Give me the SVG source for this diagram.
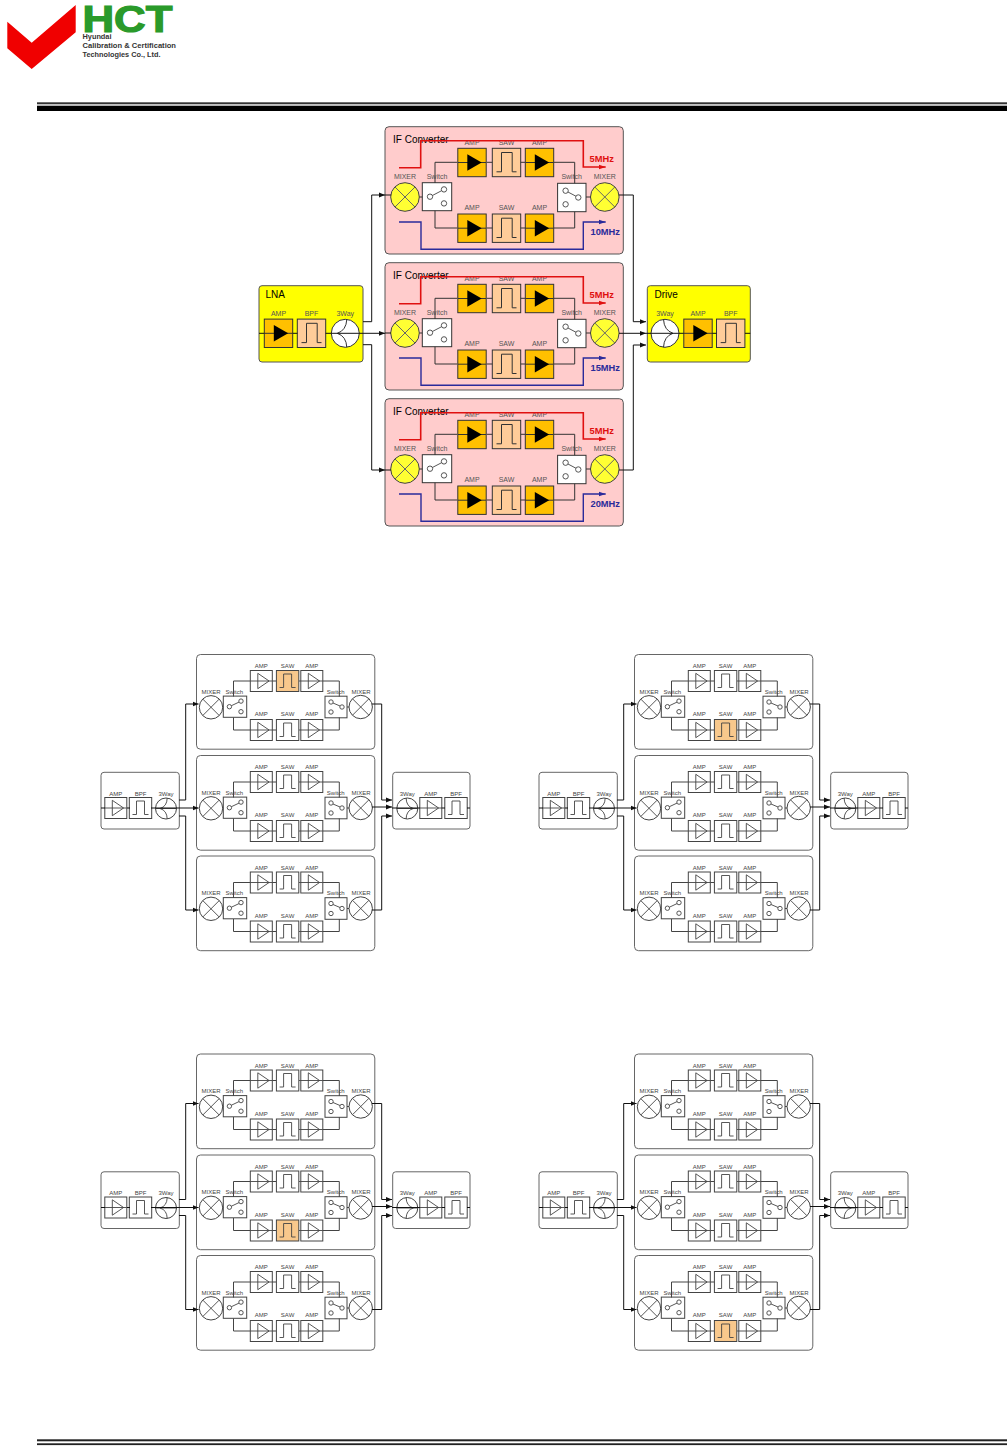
<svg xmlns="http://www.w3.org/2000/svg" xmlns:xlink="http://www.w3.org/1999/xlink" width="1007" height="1446" viewBox="0 0 1007 1446">
<style>
text{font-family:"Liberation Sans",Arial,sans-serif}
.l{font-size:7px;fill:#555;text-anchor:middle}
.s{font-size:6px;fill:#444;text-anchor:middle}
.t{font-size:10px;fill:#000}
.r{font-size:9.3px;font-weight:700;fill:#e01010}
.b{font-size:9.3px;font-weight:700;fill:#2a2a9a}
.w{fill:none;stroke:#333;stroke-width:1}
.k{fill:none;stroke:#111;stroke-width:1}
.sw{fill:none;stroke:#444;stroke-width:1}
.conv{fill:#ffcccc;stroke:#555;stroke-width:1}
.yel{fill:#ffff00;stroke:#555;stroke-width:1}
.pan{fill:#fff;stroke:#666;stroke-width:1}
.box{fill:#fff;stroke:#444;stroke-width:1}
.g{fill:none;stroke:#444;stroke-width:.9}
</style>
<defs>
<marker id="ak" markerWidth="7" markerHeight="6" refX="6" refY="3" orient="auto" markerUnits="userSpaceOnUse"><path d="M0,.6L6,3L0,5.4z" fill="#111"/></marker>
<marker id="ar" markerWidth="8" markerHeight="6" refX="7" refY="3" orient="auto" markerUnits="userSpaceOnUse"><path d="M0,.6L7,3L0,5.4z" fill="#e01010"/></marker>
<marker id="ab" markerWidth="8" markerHeight="6" refX="7" refY="3" orient="auto" markerUnits="userSpaceOnUse"><path d="M0,.6L7,3L0,5.4z" fill="#2a2a9a"/></marker>
<g id="B-amp"><rect x="-14.2" y="-14.2" width="28.4" height="28.4" fill="#ffc000" stroke="#333"/><path d="M-14,0H14" stroke="#333"/><path d="M-4.7,-8.3L9.7,0L-4.7,8.3z" fill="#000"/></g>
<g id="B-saw"><rect x="-14.2" y="-14.2" width="28.4" height="28.4" fill="#ffcc99" stroke="#333"/><path d="M-10,9.3H-5V-10H5.7V9.3H10" fill="none" stroke="#333"/></g>
<g id="B-mix"><circle r="14.3" fill="#ffff33" stroke="#444"/><path d="M-10,-10L10,10M-10,10L10,-10" stroke="#666"/></g>
<g id="B-swl"><rect x="-14.7" y="-14" width="29.4" height="28" fill="#fff" stroke="#333"/><circle cx="-7" cy="0" r="2.7" class="g"/><circle cx="7" cy="-7.3" r="2.7" class="g"/><circle cx="7" cy="6.7" r="2.7" class="g"/><path d="M-4.6,-1.2L4.6,-6" class="g"/></g>
<g id="B-swr"><rect x="-14.2" y="-14.2" width="28.4" height="28.4" fill="#fff" stroke="#333"/><circle cx="-6.2" cy="-6.8" r="2.7" class="g"/><circle cx="6.5" cy="0" r="2.7" class="g"/><circle cx="-6.2" cy="6.8" r="2.7" class="g"/><path d="M-3.8,-5.5L4.1,-1.3" class="g"/></g>
<g id="B-3l"><circle r="14" fill="#fff" stroke="#333"/><path d="M-8,0Q1,-3 1.5,-14M-8,0Q1,3 1.5,14" fill="none" stroke="#333"/></g>
<g id="B-3r"><circle r="14" fill="#fff" stroke="#333"/><path d="M8,0Q-1,-3 -1.5,-14M8,0Q-1,3 -1.5,14" fill="none" stroke="#333"/></g>
<g id="S-amp"><rect x="-11" y="-10.5" width="22" height="21" class="box"/><path d="M-11,0H11" class="g"/><path d="M-3.5,-7.7L7.8,0L-3.5,7.7z" class="g"/></g>
<g id="S-saw"><rect x="-11.2" y="-10.5" width="22.4" height="21" class="box"/><path d="M-8,6.5H-4V-7H4V6.5H8" class="g"/></g>
<g id="S-sah"><rect x="-11.2" y="-10.5" width="22.4" height="21" fill="#f8c88c" stroke="#444"/><path d="M-8,6.5H-4V-7H4V6.5H8" class="g"/></g>
<g id="S-mix"><circle r="11.7" class="box"/><path d="M-8.2,-8.2L8.2,8.2M-8.2,8.2L8.2,-8.2" class="g"/></g>
<g id="S-swl"><rect x="-11.7" y="-10.6" width="23.4" height="21.2" class="box"/><circle cx="-5.6" cy="0" r="2.2" class="g"/><circle cx="6" cy="-5.6" r="2.2" class="g"/><circle cx="6" cy="5" r="2.2" class="g"/><path d="M-3.6,-1L4,-4.6" class="g"/></g>
<g id="S-swr"><rect x="-11" y="-10.8" width="22" height="21.6" class="box"/><circle cx="-5" cy="-5" r="2.2" class="g"/><circle cx="6" cy="0" r="2.2" class="g"/><circle cx="-5" cy="5" r="2.2" class="g"/><path d="M-3,-4L4,-1" class="g"/></g>
<g id="S-3l"><circle r="10.5" class="box"/><path d="M-6,0Q1,-2 1.2,-10.5M-6,0Q1,2 1.2,10.5M-10.5,0H10.5" class="g"/></g>
<g id="S-3r"><circle r="10.5" class="box"/><path d="M6,0Q-1,-2 -1.2,-10.5M6,0Q-1,2 -1.2,10.5M-10.5,0H10.5" class="g"/></g>
<g id="bigwires" class="w"><path d="M435,183V162.3H457.3M486.7,162.3H492.3M520.7,162.3H525.3M553.7,162.3H574.7V183.3"/><path d="M435,210.7V228H457.3M486.7,228H492.3M520.7,228H525.3M553.7,228H574.7V211.7"/><path d="M419.3,197H422.3M586,197H590.7"/><path d="M399,167.7H420.7V140.7H583.3V167H605.7" style="stroke:#e01010;stroke-width:1.6" marker-end="url(#ar)"/><path d="M399,222H421V249.3H583.3V222H605.7" style="stroke:#2a2a9a;stroke-width:1.4" marker-end="url(#ab)"/></g>
<path id="smwires" class="sw" d="M37,42V26.5H53.8M75.8,26.5H79.6M102.6,26.5H104.3M126.3,26.5H142.8V42M37,63V75.5H53.8M75.8,75.5H79.6M102.6,75.5H104.3M126.3,75.5H142.8V63M26.2,52.5H26.8M150.5,52.5H152.5"/>
<g id="links">
<use href="#smwires" transform="translate(196.5,654.5)"/><use href="#smwires" transform="translate(196.5,755.5)"/><use href="#smwires" transform="translate(196.5,856)"/>
<path class="k" d="M101,808H105M127,808H130M151,808H198.500" marker-end="url(#ak)"/>
<path class="k" d="M179,800H185.700V704H198.500" marker-end="url(#ak)"/>
<path class="k" d="M179,816H185.700V910H198.500" marker-end="url(#ak)"/>
<path class="k" d="M372,704H381.700V800H392" marker-end="url(#ak)"/>
<path class="k" d="M372,807H392" marker-end="url(#ak)"/>
<path class="k" d="M372,910H381.700V816H392" marker-end="url(#ak)"/>
<path class="k" d="M392,808H420M441.700,808H445M467,808H470"/>
</g>
</defs>

<g id="logo">
<polygon points="7.300,21.700 31.700,42.700 75.700,5 75.700,32.300 31.700,69 7.300,48.300" fill="#f00000"/>
<text x="82.500" y="31.700" font-size="37" font-weight="700" fill="#2a9a2a" stroke="#2a9a2a" stroke-width="1.200" textLength="90" lengthAdjust="spacingAndGlyphs">HCT</text>
<text x="82.500" y="39" font-size="7" font-weight="700" fill="#333" textLength="29" lengthAdjust="spacingAndGlyphs">Hyundai</text>
<text x="82.500" y="48" font-size="7.500" font-weight="700" fill="#333" textLength="93.500" lengthAdjust="spacingAndGlyphs">Calibration &amp; Certification</text>
<text x="82.500" y="57" font-size="7.500" font-weight="700" fill="#333" textLength="78" lengthAdjust="spacingAndGlyphs">Technologies Co., Ltd.</text>
</g>
<g id="rules" fill="#000">
<rect x="37" y="102.300" width="970" height="2" fill="#333"/><rect x="37" y="105.700" width="970" height="5.300"/>
<rect x="37" y="1439.300" width="970" height="2" fill="#222"/><rect x="37" y="1443.300" width="970" height="1.800" fill="#222"/>
</g>

<g id="lna"><rect x="259" y="285.700" width="104" height="76.300" rx="3" class="yel"/><text x="265.500" y="297.500" class="t">LNA</text>
<text x="278.500" y="315.500" class="l">AMP</text><text x="311.500" y="315.500" class="l">BPF</text><text x="345.300" y="315.500" class="l">3Way</text>
<use href="#B-amp" x="278.500" y="333.300"/><use href="#B-saw" x="311.500" y="333.300"/><use href="#B-3l" x="345.300" y="333.300"/></g>
<g id="drive"><rect x="647.300" y="285.700" width="103" height="76.300" rx="3" class="yel"/><text x="654.500" y="297.500" class="t">Drive</text>
<text x="665" y="315.500" class="l">3Way</text><text x="698" y="315.500" class="l">AMP</text><text x="730.700" y="315.500" class="l">BPF</text>
<use href="#B-3r" x="665" y="333.300"/><use href="#B-amp" x="698" y="333.300"/><use href="#B-saw" x="730.700" y="333.300"/></g>

<g id="if1"><rect x="385" y="126.700" width="238.300" height="127.300" rx="4" class="conv"/><text x="393" y="142.500" class="t">IF Converter</text>
<text x="405" y="179" class="l">MIXER</text><text x="437" y="179" class="l">Switch</text><text x="571.700" y="179" class="l">Switch</text><text x="604.800" y="179" class="l">MIXER</text>
<text x="472" y="145" class="l">AMP</text><text x="506.500" y="145" class="l">SAW</text><text x="539.500" y="145" class="l">AMP</text>
<text x="472" y="210" class="l">AMP</text><text x="506.500" y="210" class="l">SAW</text><text x="539.500" y="210" class="l">AMP</text>
<use href="#B-amp" x="472" y="162.500"/><use href="#B-saw" x="506.500" y="162.500"/><use href="#B-amp" x="539.500" y="162.500"/>
<use href="#B-amp" x="472" y="228.200"/><use href="#B-saw" x="506.500" y="228.200"/><use href="#B-amp" x="539.500" y="228.200"/>
<use href="#B-mix" x="405" y="197"/><use href="#B-swl" x="437" y="196.700"/><use href="#B-swr" x="571.800" y="197.500"/><use href="#B-mix" x="604.800" y="197"/>
<text x="589.500" y="162" class="r">5MHz</text><text x="590.500" y="234.500" class="b">10MHz</text></g>
<g id="if2"><rect x="385" y="262.700" width="238.300" height="127.300" rx="4" class="conv"/><text x="393" y="278.500" class="t">IF Converter</text>
<text x="405" y="315" class="l">MIXER</text><text x="437" y="315" class="l">Switch</text><text x="571.700" y="315" class="l">Switch</text><text x="604.800" y="315" class="l">MIXER</text>
<text x="472" y="281" class="l">AMP</text><text x="506.500" y="281" class="l">SAW</text><text x="539.500" y="281" class="l">AMP</text>
<text x="472" y="346" class="l">AMP</text><text x="506.500" y="346" class="l">SAW</text><text x="539.500" y="346" class="l">AMP</text>
<use href="#B-amp" x="472" y="298.500"/><use href="#B-saw" x="506.500" y="298.500"/><use href="#B-amp" x="539.500" y="298.500"/>
<use href="#B-amp" x="472" y="364.200"/><use href="#B-saw" x="506.500" y="364.200"/><use href="#B-amp" x="539.500" y="364.200"/>
<use href="#B-mix" x="405" y="333"/><use href="#B-swl" x="437" y="332.700"/><use href="#B-swr" x="571.800" y="333.500"/><use href="#B-mix" x="604.800" y="333"/>
<text x="589.500" y="298" class="r">5MHz</text><text x="590.500" y="370.500" class="b">15MHz</text></g>
<g id="if3"><rect x="385" y="398.700" width="238.300" height="127.300" rx="4" class="conv"/><text x="393" y="414.500" class="t">IF Converter</text>
<text x="405" y="451" class="l">MIXER</text><text x="437" y="451" class="l">Switch</text><text x="571.700" y="451" class="l">Switch</text><text x="604.800" y="451" class="l">MIXER</text>
<text x="472" y="417" class="l">AMP</text><text x="506.500" y="417" class="l">SAW</text><text x="539.500" y="417" class="l">AMP</text>
<text x="472" y="482" class="l">AMP</text><text x="506.500" y="482" class="l">SAW</text><text x="539.500" y="482" class="l">AMP</text>
<use href="#B-amp" x="472" y="434.500"/><use href="#B-saw" x="506.500" y="434.500"/><use href="#B-amp" x="539.500" y="434.500"/>
<use href="#B-amp" x="472" y="500.200"/><use href="#B-saw" x="506.500" y="500.200"/><use href="#B-amp" x="539.500" y="500.200"/>
<use href="#B-mix" x="405" y="469"/><use href="#B-swl" x="437" y="468.700"/><use href="#B-swr" x="571.800" y="469.500"/><use href="#B-mix" x="604.800" y="469"/>
<text x="589.500" y="434" class="r">5MHz</text><text x="590.500" y="506.500" class="b">20MHz</text></g>

<g id="connectors-top">
<use href="#bigwires"/><use href="#bigwires" transform="translate(0,136)"/><use href="#bigwires" transform="translate(0,272)"/>
<path class="k" d="M259,333.300H264.300M292.700,333.300H297.300M325.700,333.300H385" marker-end="url(#ak)"/>
<path class="k" d="M363,321.700H371.700V195H385" marker-end="url(#ak)"/>
<path class="k" d="M363,344.700H371.700V470H385" marker-end="url(#ak)"/>
<path class="k" d="M385,195H391M385,333H391M385,470H391"/>
<path class="k" d="M619,195H633.300V321.700H646" marker-end="url(#ak)"/>
<path class="k" d="M619,333.300H646" marker-end="url(#ak)"/>
<path class="k" d="M619,470H633.300V345H646" marker-end="url(#ak)"/>
<path class="k" d="M646,333.300H683.800M712.200,333.300H716.500M745,333.300H750.300"/>
</g>

<g id="diagram-a">
<g id="a-in"><rect x="101" y="772.300" width="78.300" height="56.700" rx="3" class="pan"/><text x="115.800" y="795.500" class="s">AMP</text><text x="140.500" y="795.500" class="s">BPF</text><text x="166" y="795.500" class="s">3Way</text><use href="#S-amp" x="115.800" y="808"/><use href="#S-saw" x="140.500" y="808"/><use href="#S-3l" x="166" y="808.500"/></g>
<g id="a-out"><rect x="392.700" y="772.300" width="77.300" height="56.700" rx="3" class="pan"/><text x="407.300" y="795.500" class="s">3Way</text><text x="430.800" y="795.500" class="s">AMP</text><text x="456" y="795.500" class="s">BPF</text><use href="#S-3r" x="407.300" y="808.500"/><use href="#S-amp" x="430.800" y="808"/><use href="#S-saw" x="456" y="808"/></g>
<g id="a-c1" transform="translate(196.500,654.500)"><rect width="178.300" height="94.700" rx="4" class="pan"/><text x="14.500" y="39" class="s">MIXER</text><text x="37.800" y="39" class="s">Switch</text><text x="139.200" y="39" class="s">Switch</text><text x="164.500" y="39" class="s">MIXER</text><text x="64.800" y="13.500" class="s">AMP</text><text x="91.100" y="13.500" class="s">SAW</text><text x="115.300" y="13.500" class="s">AMP</text><text x="64.800" y="61.800" class="s">AMP</text><text x="91.100" y="61.800" class="s">SAW</text><text x="115.300" y="61.800" class="s">AMP</text><use href="#S-amp" x="64.800" y="26.500"/><use href="#S-sah" x="91.100" y="26.500"/><use href="#S-amp" x="115.300" y="26.500"/><use href="#S-amp" x="64.800" y="75.500"/><use href="#S-saw" x="91.100" y="75.500"/><use href="#S-amp" x="115.300" y="75.500"/><use href="#S-mix" x="14.500" y="52.800"/><use href="#S-swl" x="38.500" y="52.200"/><use href="#S-swr" x="139.500" y="52.500"/><use href="#S-mix" x="164.200" y="52.500"/></g>
<g id="a-c2" transform="translate(196.500,755.500)"><rect width="178.300" height="94.700" rx="4" class="pan"/><text x="14.500" y="39" class="s">MIXER</text><text x="37.800" y="39" class="s">Switch</text><text x="139.200" y="39" class="s">Switch</text><text x="164.500" y="39" class="s">MIXER</text><text x="64.800" y="13.500" class="s">AMP</text><text x="91.100" y="13.500" class="s">SAW</text><text x="115.300" y="13.500" class="s">AMP</text><text x="64.800" y="61.800" class="s">AMP</text><text x="91.100" y="61.800" class="s">SAW</text><text x="115.300" y="61.800" class="s">AMP</text><use href="#S-amp" x="64.800" y="26.500"/><use href="#S-saw" x="91.100" y="26.500"/><use href="#S-amp" x="115.300" y="26.500"/><use href="#S-amp" x="64.800" y="75.500"/><use href="#S-saw" x="91.100" y="75.500"/><use href="#S-amp" x="115.300" y="75.500"/><use href="#S-mix" x="14.500" y="52.800"/><use href="#S-swl" x="38.500" y="52.200"/><use href="#S-swr" x="139.500" y="52.500"/><use href="#S-mix" x="164.200" y="52.500"/></g>
<g id="a-c3" transform="translate(196.500,856)"><rect width="178.300" height="94.700" rx="4" class="pan"/><text x="14.500" y="39" class="s">MIXER</text><text x="37.800" y="39" class="s">Switch</text><text x="139.200" y="39" class="s">Switch</text><text x="164.500" y="39" class="s">MIXER</text><text x="64.800" y="13.500" class="s">AMP</text><text x="91.100" y="13.500" class="s">SAW</text><text x="115.300" y="13.500" class="s">AMP</text><text x="64.800" y="61.800" class="s">AMP</text><text x="91.100" y="61.800" class="s">SAW</text><text x="115.300" y="61.800" class="s">AMP</text><use href="#S-amp" x="64.800" y="26.500"/><use href="#S-saw" x="91.100" y="26.500"/><use href="#S-amp" x="115.300" y="26.500"/><use href="#S-amp" x="64.800" y="75.500"/><use href="#S-saw" x="91.100" y="75.500"/><use href="#S-amp" x="115.300" y="75.500"/><use href="#S-mix" x="14.500" y="52.800"/><use href="#S-swl" x="38.500" y="52.200"/><use href="#S-swr" x="139.500" y="52.500"/><use href="#S-mix" x="164.200" y="52.500"/></g>
</g>

<g id="diagram-b" transform="translate(438,0)">
<g id="b-in"><rect x="101" y="772.300" width="78.300" height="56.700" rx="3" class="pan"/><text x="115.800" y="795.500" class="s">AMP</text><text x="140.500" y="795.500" class="s">BPF</text><text x="166" y="795.500" class="s">3Way</text><use href="#S-amp" x="115.800" y="808"/><use href="#S-saw" x="140.500" y="808"/><use href="#S-3l" x="166" y="808.500"/></g>
<g id="b-out"><rect x="392.700" y="772.300" width="77.300" height="56.700" rx="3" class="pan"/><text x="407.300" y="795.500" class="s">3Way</text><text x="430.800" y="795.500" class="s">AMP</text><text x="456" y="795.500" class="s">BPF</text><use href="#S-3r" x="407.300" y="808.500"/><use href="#S-amp" x="430.800" y="808"/><use href="#S-saw" x="456" y="808"/></g>
<g id="b-c1" transform="translate(196.500,654.500)"><rect width="178.300" height="94.700" rx="4" class="pan"/><text x="14.500" y="39" class="s">MIXER</text><text x="37.800" y="39" class="s">Switch</text><text x="139.200" y="39" class="s">Switch</text><text x="164.500" y="39" class="s">MIXER</text><text x="64.800" y="13.500" class="s">AMP</text><text x="91.100" y="13.500" class="s">SAW</text><text x="115.300" y="13.500" class="s">AMP</text><text x="64.800" y="61.800" class="s">AMP</text><text x="91.100" y="61.800" class="s">SAW</text><text x="115.300" y="61.800" class="s">AMP</text><use href="#S-amp" x="64.800" y="26.500"/><use href="#S-saw" x="91.100" y="26.500"/><use href="#S-amp" x="115.300" y="26.500"/><use href="#S-amp" x="64.800" y="75.500"/><use href="#S-sah" x="91.100" y="75.500"/><use href="#S-amp" x="115.300" y="75.500"/><use href="#S-mix" x="14.500" y="52.800"/><use href="#S-swl" x="38.500" y="52.200"/><use href="#S-swr" x="139.500" y="52.500"/><use href="#S-mix" x="164.200" y="52.500"/></g>
<g id="b-c2" transform="translate(196.500,755.500)"><rect width="178.300" height="94.700" rx="4" class="pan"/><text x="14.500" y="39" class="s">MIXER</text><text x="37.800" y="39" class="s">Switch</text><text x="139.200" y="39" class="s">Switch</text><text x="164.500" y="39" class="s">MIXER</text><text x="64.800" y="13.500" class="s">AMP</text><text x="91.100" y="13.500" class="s">SAW</text><text x="115.300" y="13.500" class="s">AMP</text><text x="64.800" y="61.800" class="s">AMP</text><text x="91.100" y="61.800" class="s">SAW</text><text x="115.300" y="61.800" class="s">AMP</text><use href="#S-amp" x="64.800" y="26.500"/><use href="#S-saw" x="91.100" y="26.500"/><use href="#S-amp" x="115.300" y="26.500"/><use href="#S-amp" x="64.800" y="75.500"/><use href="#S-saw" x="91.100" y="75.500"/><use href="#S-amp" x="115.300" y="75.500"/><use href="#S-mix" x="14.500" y="52.800"/><use href="#S-swl" x="38.500" y="52.200"/><use href="#S-swr" x="139.500" y="52.500"/><use href="#S-mix" x="164.200" y="52.500"/></g>
<g id="b-c3" transform="translate(196.500,856)"><rect width="178.300" height="94.700" rx="4" class="pan"/><text x="14.500" y="39" class="s">MIXER</text><text x="37.800" y="39" class="s">Switch</text><text x="139.200" y="39" class="s">Switch</text><text x="164.500" y="39" class="s">MIXER</text><text x="64.800" y="13.500" class="s">AMP</text><text x="91.100" y="13.500" class="s">SAW</text><text x="115.300" y="13.500" class="s">AMP</text><text x="64.800" y="61.800" class="s">AMP</text><text x="91.100" y="61.800" class="s">SAW</text><text x="115.300" y="61.800" class="s">AMP</text><use href="#S-amp" x="64.800" y="26.500"/><use href="#S-saw" x="91.100" y="26.500"/><use href="#S-amp" x="115.300" y="26.500"/><use href="#S-amp" x="64.800" y="75.500"/><use href="#S-saw" x="91.100" y="75.500"/><use href="#S-amp" x="115.300" y="75.500"/><use href="#S-mix" x="14.500" y="52.800"/><use href="#S-swl" x="38.500" y="52.200"/><use href="#S-swr" x="139.500" y="52.500"/><use href="#S-mix" x="164.200" y="52.500"/></g>
</g>

<g id="diagram-c" transform="translate(0,399.500)">
<g id="c-in"><rect x="101" y="772.300" width="78.300" height="56.700" rx="3" class="pan"/><text x="115.800" y="795.500" class="s">AMP</text><text x="140.500" y="795.500" class="s">BPF</text><text x="166" y="795.500" class="s">3Way</text><use href="#S-amp" x="115.800" y="808"/><use href="#S-saw" x="140.500" y="808"/><use href="#S-3l" x="166" y="808.500"/></g>
<g id="c-out"><rect x="392.700" y="772.300" width="77.300" height="56.700" rx="3" class="pan"/><text x="407.300" y="795.500" class="s">3Way</text><text x="430.800" y="795.500" class="s">AMP</text><text x="456" y="795.500" class="s">BPF</text><use href="#S-3r" x="407.300" y="808.500"/><use href="#S-amp" x="430.800" y="808"/><use href="#S-saw" x="456" y="808"/></g>
<g id="c-c1" transform="translate(196.500,654.500)"><rect width="178.300" height="94.700" rx="4" class="pan"/><text x="14.500" y="39" class="s">MIXER</text><text x="37.800" y="39" class="s">Switch</text><text x="139.200" y="39" class="s">Switch</text><text x="164.500" y="39" class="s">MIXER</text><text x="64.800" y="13.500" class="s">AMP</text><text x="91.100" y="13.500" class="s">SAW</text><text x="115.300" y="13.500" class="s">AMP</text><text x="64.800" y="61.800" class="s">AMP</text><text x="91.100" y="61.800" class="s">SAW</text><text x="115.300" y="61.800" class="s">AMP</text><use href="#S-amp" x="64.800" y="26.500"/><use href="#S-saw" x="91.100" y="26.500"/><use href="#S-amp" x="115.300" y="26.500"/><use href="#S-amp" x="64.800" y="75.500"/><use href="#S-saw" x="91.100" y="75.500"/><use href="#S-amp" x="115.300" y="75.500"/><use href="#S-mix" x="14.500" y="52.800"/><use href="#S-swl" x="38.500" y="52.200"/><use href="#S-swr" x="139.500" y="52.500"/><use href="#S-mix" x="164.200" y="52.500"/></g>
<g id="c-c2" transform="translate(196.500,755.500)"><rect width="178.300" height="94.700" rx="4" class="pan"/><text x="14.500" y="39" class="s">MIXER</text><text x="37.800" y="39" class="s">Switch</text><text x="139.200" y="39" class="s">Switch</text><text x="164.500" y="39" class="s">MIXER</text><text x="64.800" y="13.500" class="s">AMP</text><text x="91.100" y="13.500" class="s">SAW</text><text x="115.300" y="13.500" class="s">AMP</text><text x="64.800" y="61.800" class="s">AMP</text><text x="91.100" y="61.800" class="s">SAW</text><text x="115.300" y="61.800" class="s">AMP</text><use href="#S-amp" x="64.800" y="26.500"/><use href="#S-saw" x="91.100" y="26.500"/><use href="#S-amp" x="115.300" y="26.500"/><use href="#S-amp" x="64.800" y="75.500"/><use href="#S-sah" x="91.100" y="75.500"/><use href="#S-amp" x="115.300" y="75.500"/><use href="#S-mix" x="14.500" y="52.800"/><use href="#S-swl" x="38.500" y="52.200"/><use href="#S-swr" x="139.500" y="52.500"/><use href="#S-mix" x="164.200" y="52.500"/></g>
<g id="c-c3" transform="translate(196.500,856)"><rect width="178.300" height="94.700" rx="4" class="pan"/><text x="14.500" y="39" class="s">MIXER</text><text x="37.800" y="39" class="s">Switch</text><text x="139.200" y="39" class="s">Switch</text><text x="164.500" y="39" class="s">MIXER</text><text x="64.800" y="13.500" class="s">AMP</text><text x="91.100" y="13.500" class="s">SAW</text><text x="115.300" y="13.500" class="s">AMP</text><text x="64.800" y="61.800" class="s">AMP</text><text x="91.100" y="61.800" class="s">SAW</text><text x="115.300" y="61.800" class="s">AMP</text><use href="#S-amp" x="64.800" y="26.500"/><use href="#S-saw" x="91.100" y="26.500"/><use href="#S-amp" x="115.300" y="26.500"/><use href="#S-amp" x="64.800" y="75.500"/><use href="#S-saw" x="91.100" y="75.500"/><use href="#S-amp" x="115.300" y="75.500"/><use href="#S-mix" x="14.500" y="52.800"/><use href="#S-swl" x="38.500" y="52.200"/><use href="#S-swr" x="139.500" y="52.500"/><use href="#S-mix" x="164.200" y="52.500"/></g>
</g>

<g id="diagram-d" transform="translate(438,399.500)">
<g id="d-in"><rect x="101" y="772.300" width="78.300" height="56.700" rx="3" class="pan"/><text x="115.800" y="795.500" class="s">AMP</text><text x="140.500" y="795.500" class="s">BPF</text><text x="166" y="795.500" class="s">3Way</text><use href="#S-amp" x="115.800" y="808"/><use href="#S-saw" x="140.500" y="808"/><use href="#S-3l" x="166" y="808.500"/></g>
<g id="d-out"><rect x="392.700" y="772.300" width="77.300" height="56.700" rx="3" class="pan"/><text x="407.300" y="795.500" class="s">3Way</text><text x="430.800" y="795.500" class="s">AMP</text><text x="456" y="795.500" class="s">BPF</text><use href="#S-3r" x="407.300" y="808.500"/><use href="#S-amp" x="430.800" y="808"/><use href="#S-saw" x="456" y="808"/></g>
<g id="d-c1" transform="translate(196.500,654.500)"><rect width="178.300" height="94.700" rx="4" class="pan"/><text x="14.500" y="39" class="s">MIXER</text><text x="37.800" y="39" class="s">Switch</text><text x="139.200" y="39" class="s">Switch</text><text x="164.500" y="39" class="s">MIXER</text><text x="64.800" y="13.500" class="s">AMP</text><text x="91.100" y="13.500" class="s">SAW</text><text x="115.300" y="13.500" class="s">AMP</text><text x="64.800" y="61.800" class="s">AMP</text><text x="91.100" y="61.800" class="s">SAW</text><text x="115.300" y="61.800" class="s">AMP</text><use href="#S-amp" x="64.800" y="26.500"/><use href="#S-saw" x="91.100" y="26.500"/><use href="#S-amp" x="115.300" y="26.500"/><use href="#S-amp" x="64.800" y="75.500"/><use href="#S-saw" x="91.100" y="75.500"/><use href="#S-amp" x="115.300" y="75.500"/><use href="#S-mix" x="14.500" y="52.800"/><use href="#S-swl" x="38.500" y="52.200"/><use href="#S-swr" x="139.500" y="52.500"/><use href="#S-mix" x="164.200" y="52.500"/></g>
<g id="d-c2" transform="translate(196.500,755.500)"><rect width="178.300" height="94.700" rx="4" class="pan"/><text x="14.500" y="39" class="s">MIXER</text><text x="37.800" y="39" class="s">Switch</text><text x="139.200" y="39" class="s">Switch</text><text x="164.500" y="39" class="s">MIXER</text><text x="64.800" y="13.500" class="s">AMP</text><text x="91.100" y="13.500" class="s">SAW</text><text x="115.300" y="13.500" class="s">AMP</text><text x="64.800" y="61.800" class="s">AMP</text><text x="91.100" y="61.800" class="s">SAW</text><text x="115.300" y="61.800" class="s">AMP</text><use href="#S-amp" x="64.800" y="26.500"/><use href="#S-saw" x="91.100" y="26.500"/><use href="#S-amp" x="115.300" y="26.500"/><use href="#S-amp" x="64.800" y="75.500"/><use href="#S-saw" x="91.100" y="75.500"/><use href="#S-amp" x="115.300" y="75.500"/><use href="#S-mix" x="14.500" y="52.800"/><use href="#S-swl" x="38.500" y="52.200"/><use href="#S-swr" x="139.500" y="52.500"/><use href="#S-mix" x="164.200" y="52.500"/></g>
<g id="d-c3" transform="translate(196.500,856)"><rect width="178.300" height="94.700" rx="4" class="pan"/><text x="14.500" y="39" class="s">MIXER</text><text x="37.800" y="39" class="s">Switch</text><text x="139.200" y="39" class="s">Switch</text><text x="164.500" y="39" class="s">MIXER</text><text x="64.800" y="13.500" class="s">AMP</text><text x="91.100" y="13.500" class="s">SAW</text><text x="115.300" y="13.500" class="s">AMP</text><text x="64.800" y="61.800" class="s">AMP</text><text x="91.100" y="61.800" class="s">SAW</text><text x="115.300" y="61.800" class="s">AMP</text><use href="#S-amp" x="64.800" y="26.500"/><use href="#S-saw" x="91.100" y="26.500"/><use href="#S-amp" x="115.300" y="26.500"/><use href="#S-amp" x="64.800" y="75.500"/><use href="#S-sah" x="91.100" y="75.500"/><use href="#S-amp" x="115.300" y="75.500"/><use href="#S-mix" x="14.500" y="52.800"/><use href="#S-swl" x="38.500" y="52.200"/><use href="#S-swr" x="139.500" y="52.500"/><use href="#S-mix" x="164.200" y="52.500"/></g>
</g>

<g id="connectors">
<use href="#links"/><use href="#links" transform="translate(438,0)"/><use href="#links" transform="translate(0,399.500)"/><use href="#links" transform="translate(438,399.500)"/>
</g>
</svg>
